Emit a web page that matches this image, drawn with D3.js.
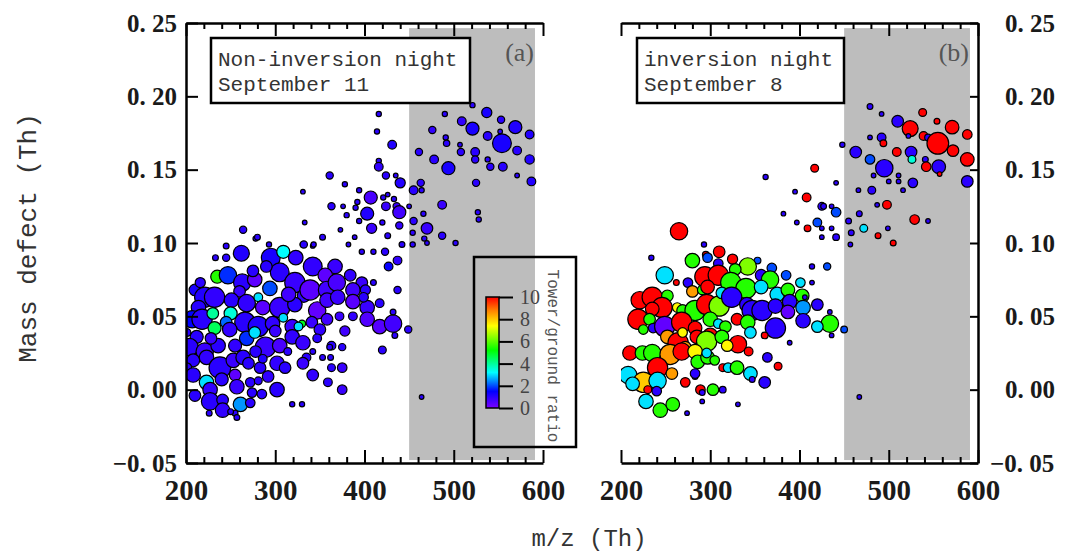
<!DOCTYPE html>
<html>
<head>
<meta charset="utf-8">
<script src="https://cdn.jsdelivr.net/npm/d3@7"></script>
<style>
body { margin: 0; background: #fff; }
</style>
</head>
<body>
<script>
// each point: [m/z, mass defect, size, tower/ground ratio]
var pointsA = [
  [489,0.204,1.8,1],[521,0.194,1.8,1],[537,0.189,3.5,1.2],[416,0.188,1.8,1],[490,0.188,1.8,1],[509,0.183,3,0.9],
  [553,0.184,2.5,1],[569,0.179,4.5,1.1],[521,0.178,4.5,1.2],[414,0.176,1.8,1],[476,0.177,2.5,0.9],[552,0.176,1.6,1],
  [538,0.173,3,1],[585,0.174,3,1.1],[491,0.172,1.8,1],[554,0.168,6.5,1.2],[431,0.167,3,1.1],[492,0.168,2.2,1],
  [507,0.167,1.6,1],[524,0.162,3,1],[508,0.162,2.5,1],[571,0.163,3,1],[585,0.157,3.2,1.1],[461,0.162,2.5,1],
  [524,0.157,2.5,1],[538,0.157,1.8,1],[478,0.157,3,1],[494,0.151,4.5,1.2],[416,0.156,1.8,1],[416,0.152,3,0.9],
  [541,0.152,2.5,1],[555,0.152,3,1],[571,0.146,1.6,1],[587,0.142,3,1.1],[361,0.146,2.5,1],[424,0.146,2.5,1],
  [435,0.146,1.6,1],[440,0.141,3.5,1.1],[378,0.140,1.8,1],[463,0.141,2.5,1],[464,0.136,1.8,1],[525,0.141,2.5,1],
  [331,0.135,1.6,1],[394,0.136,1.8,1],[455,0.136,3,1],[407,0.131,4.5,0.6],[426,0.133,1.6,1],[421,0.131,1.8,1],
  [433,0.130,1.8,1],[392,0.128,1.8,1],[363,0.125,2.5,1],[376,0.125,1.6,1],[390,0.124,1.8,1],[424,0.125,3,0.8],
  [436,0.125,2.5,0.8],[450,0.125,1.6,1],[487,0.126,3,0.8],[403,0.120,4.5,1.1],[439,0.121,4.5,0.7],[380,0.119,1.8,1],
  [466,0.120,1.8,1],[527,0.121,1.8,1],[528,0.116,1.8,1],[333,0.114,1.6,1],[394,0.115,1.8,1],[408,0.110,3.5,0.8],
  [420,0.114,1.8,1],[439,0.112,2.5,0.9],[455,0.115,2.5,1],[470,0.110,4,0.8],[454,0.107,1.8,1],[373,0.109,1.6,1],
  [426,0.105,2,1],[353,0.104,2,1],[389,0.104,1.6,1],[487,0.105,2.5,1],[467,0.103,1.8,1],[502,0.100,1.8,1],
  [331,0.099,2,1],[342,0.098,1.6,1],[382,0.099,1.6,1],[442,0.099,2,1],[454,0.099,1.8,1],[470,0.100,1.6,1],
  [464,-0.005,1.6,1],
  [278,0.103,1.8,1],[264,0.109,2.5,1],[233,0.090,2,1],[245,0.098,2,1],[293,0.099,1.8,1],[280,0.104,2,1],
  [332,0.099,2.5,1],[343,0.099,1.8,1],[397,0.094,1.8,1],[410,0.094,1.8,1],[423,0.094,2.5,1],[437,0.088,3,0.9],
  [427,0.084,3,1.4],[245,0.090,2.5,1],
  [262,0.093,5.5,1.1],[295,0.090,6.5,1.2],[309,0.094,4.5,3.2],[323,0.090,5,0.9],
  [342,0.084,6.5,0.9],[367,0.084,5,0.8],[356,0.078,5,0.35],[384,0.078,4,0.9],[397,0.073,4,0.8],[410,0.073,2,1],
  [235,0.077,4.5,5.5],[247,0.078,6,1.8],[263,0.073,6,1],[277,0.075,5,0.35],[305,0.080,6.5,1],[322,0.073,7,0.8],
  [275,0.081,4,1],[290,0.084,4,1],[260,0.067,4,0.8],[210,0.068,4,1.2],[332,0.064,4.5,0.9],[216,0.073,3.5,1],
  [339,0.068,7,0.4],[358,0.068,6,0.7],[369,0.073,6,0.6],[387,0.068,5,0.7],[401,0.068,3.5,1],[294,0.069,5,2],
  [437,0.068,2.5,1],[221,0.063,7,1.1],[232,0.063,7,0.9],[251,0.061,5,1],[268,0.059,6,0.9],[281,0.063,3,3],
  [286,0.056,5,0.4],[305,0.056,7,0.8],[322,0.058,5,1],[347,0.054,6,0.3],[358,0.061,5,0.7],[370,0.063,5,0.8],
  [387,0.060,5,0.4],[403,0.056,5,0.8],[417,0.059,3,1],[399,0.063,3.3,1],[315,0.065,5,0.7],[214,0.056,5,1],
  [207,0.048,6,1.5],[218,0.048,7,1],[230,0.052,4,4],[232,0.042,4.5,4.5],[250,0.052,4.5,3.5],[266,0.046,7,1],
  [281,0.043,7,1.1],[297,0.045,5,0.9],[309,0.049,3,3],[319,0.043,5,0.8],[330,0.045,2.5,5],[326,0.043,3,3],
  [341,0.046,4,0.8],[358,0.048,4,0.7],[372,0.050,3,0.8],[387,0.050,3,0.9],[403,0.048,5,0.5],[417,0.043,5,0.45],
  [432,0.045,6,0.7],[449,0.041,2.5,1],[432,0.053,2,1],[434,0.037,2,1],[245,0.046,4,2.2],[300,0.040,4,0.8],
  [350,0.041,4,0.9],[378,0.040,3.5,0.7],[212,0.036,4.5,1],
  [201,0.039,2.7,1],[204,0.029,6,1],[221,0.026,6,0.8],[236,0.030,5,1],[249,0.041,5,0.9],[268,0.035,5,1.8],
  [277,0.039,4,3],[289,0.029,7,0.8],[305,0.030,5,0.6],[319,0.036,5,0.9],[331,0.032,5,0.8],[347,0.035,3,1],
  [363,0.030,3,1],[375,0.029,2.5,1],[361,0.029,2,1],[342,0.026,2,1],[353,0.022,2,1],[362,0.022,2,1],
  [314,0.026,2.7,1],[420,0.027,2.7,1],[228,0.035,4,0.8],[335,0.022,3,1],[255,0.030,4.5,0.9],[278,0.026,4,1],
  [363,0.015,2.7,1],[375,0.015,3.3,0.8],[208,0.020,4.5,1],[223,0.022,5,0.9],[238,0.015,7.5,1],[253,0.020,5,0.8],
  [264,0.022,5,1],[255,0.010,4,0.35],[270,0.018,4,1],[283,0.015,4,1],[286,0.021,3,1.1],[302,0.018,5,0.9],
  [311,0.015,4,1],[331,0.018,4,0.8],[342,0.010,4,0.9],[359,0.005,3,1],[375,0.000,3.3,0.8],[201,0.015,3.3,1],
  [208,0.010,5,1],[223,0.005,5,3],[227,0.000,5,0.9],[240,0.007,4.5,1],[257,0.002,5,0.8],[272,0.005,3.3,1],
  [281,0.006,2.7,1],[292,0.009,4,0.9],[302,0.000,5,1],[274,-0.002,3.3,1],[285,-0.003,3.3,1],[210,-0.004,4,1],
  [227,-0.008,6,1],[241,-0.007,4,1],[261,-0.010,5,2.5],[272,-0.009,3.3,1],[241,-0.014,5,0.9],[226,-0.016,2,1],
  [319,-0.010,1.8,1],[330,-0.010,1.8,1],[255,-0.016,2,1],[257,-0.019,2,1],[250,-0.015,2,1]
];

var pointsB = [
  [265,0.108,6,10],[293,0.099,1.8,1],[310,0.094,4,10],[295,0.092,2.3,10],[280,0.088,5,5.5],[234,0.090,1.8,1],
  [325,0.089,3.5,10],[297,0.090,3.3,2],[309,0.086,3.3,1],[353,0.088,2.3,2],[342,0.084,6,6.3],[328,0.082,4,5.5],
  [249,0.078,6,3],[262,0.073,2,10],[294,0.077,7,10],[309,0.078,7,10],[323,0.073,7,5.5],[340,0.069,7,5.5],
  [357,0.078,4,1],[369,0.083,3.3,2],[367,0.075,6,5.5],[385,0.078,3.3,2],[401,0.073,3.3,3],[414,0.073,1.6,1],
  [275,0.073,3.3,1],[280,0.067,4,8.5],[291,0.068,3.3,5.5],[297,0.070,4.7,10],[357,0.070,4.7,3],[375,0.065,5,3],
  [387,0.068,4.7,5.5],[403,0.064,4.7,5.5],[389,0.060,5,1],[406,0.063,1.6,1],[221,0.061,6,10],[235,0.063,7,10],
  [252,0.064,4,5.5],[246,0.056,7,10],[235,0.055,4.7,10],[263,0.056,3.3,7.5],[269,0.054,4,5.5],[283,0.054,7,5.5],
  [296,0.058,7,10],[310,0.057,7,6.3],[313,0.066,4,3],[324,0.063,7,1],[341,0.058,5,1],[347,0.054,7,1],
  [358,0.054,7,1],[373,0.057,5,1],[387,0.053,4.7,0.3],[404,0.056,5,2.5],[404,0.047,5,1],[420,0.058,4,1],
  [434,0.053,1.6,1],[434,0.045,6,5.5],[420,0.043,4,3],[450,0.041,2.3,2],[436,0.037,1.6,1],[219,0.048,7,10],
  [232,0.048,4,5.5],[225,0.041,3.3,5.5],[236,0.042,3.3,1],[249,0.043,7,0.3],[268,0.046,7,10],[283,0.042,4.7,10],
  [300,0.048,5,5.5],[309,0.045,3.3,3],[317,0.043,4,5.5],[330,0.048,4,10],[342,0.046,5,5.5],[373,0.042,7,1],
  [345,0.039,4,3],[252,0.036,4.7,8.5],[264,0.032,7,10],[272,0.029,4,8.5],[285,0.036,4.7,10],[269,0.039,3.3,7.5],
  [300,0.037,5,10],[296,0.033,7,6.3],[313,0.036,4.7,5.5],[331,0.031,6,10],[319,0.030,4,7.5],[343,0.026,3,10],
  [361,0.037,2.3,10],[389,0.032,1.6,1],[210,0.025,5,10],[224,0.025,5,5.5],[235,0.025,6,5.5],[255,0.024,7,8.5],
  [268,0.026,6,10],[283,0.026,5,7.5],[286,0.019,4.7,5.5],[297,0.022,4.7,5.5],[305,0.020,3.3,5.5],[296,0.025,3.3,3],
  [314,0.015,2.7,10],[320,0.015,3.3,3],[330,0.015,4.7,5.5],[345,0.011,4.7,3],[364,0.022,3.3,1],[376,0.016,2.7,10],
  [241,0.015,7,10],[257,0.011,4,8.5],[208,0.010,6,3],[225,0.005,7,8],[241,0.006,6,3],[213,0.004,4.7,3],
  [230,0.000,2.7,10],[240,-0.001,3.3,1],[272,0.005,3.3,10],[283,0.009,2,1],[289,0.000,3.3,10],[291,-0.002,2,1],
  [303,0.000,4,5.5],[314,0.000,2.3,1],[361,0.005,4,1],[228,-0.008,5,3],[244,-0.014,5,5.5],[258,-0.010,4.7,5.5],
  [274,-0.016,1.6,1],[291,-0.008,1.6,1],[331,-0.010,1.6,1],[347,0.007,2,1],[283,0.011,3.3,1],[467,-0.005,1.6,1],
  [479,0.193,2,1],[492,0.188,1.6,1],[538,0.189,2.7,10],[554,0.183,2,10],[510,0.183,4,1],[524,0.178,5.5,10],
  [571,0.179,4.7,10],[588,0.174,3.3,10],[479,0.172,1.6,1],[492,0.172,3,1],[539,0.173,3,10],[544,0.172,2.3,1],
  [522,0.173,1.6,1],[555,0.168,7.5,10],[494,0.168,2.3,10],[448,0.167,1.8,1],[463,0.162,4,1],[509,0.162,3,10],
  [525,0.162,4,1],[572,0.163,4,10],[588,0.157,4.7,10],[479,0.157,3.3,2],[526,0.157,2.7,3.5],[541,0.157,2,1],
  [542,0.152,3.3,10],[495,0.151,6,1],[556,0.152,4.7,1],[557,0.147,1.6,10],[417,0.151,2.7,10],[588,0.142,4,1],
  [527,0.141,3.3,1],[483,0.146,1.6,1],[500,0.142,1.6,1],[511,0.146,1.6,1],[511,0.142,1.6,1],[516,0.136,1.6,1],
  [466,0.136,1.6,1],[481,0.136,2.7,1],[441,0.141,1.6,1],[362,0.145,1.8,1],[395,0.135,1.6,1],[408,0.131,3,10],
  [425,0.125,2.7,1],[427,0.125,2,1],[436,0.125,1.6,1],[441,0.121,3.3,2],[498,0.126,3,10],[487,0.126,1.6,1],
  [382,0.120,1.6,1],[397,0.114,1.6,1],[420,0.114,3,2],[409,0.110,2.3,10],[425,0.110,1.6,1],[436,0.110,1.6,1],
  [425,0.104,1.6,1],[441,0.104,2.3,1],[455,0.115,2,1],[467,0.120,2,1],[472,0.110,2.7,3],[458,0.107,2,1],
  [457,0.099,1.6,1],[488,0.105,2,10],[499,0.110,1.6,1],[505,0.100,2,10],[529,0.116,3.3,10],[544,0.115,1.6,1],
  [431,0.084,2.5,2],[414,0.084,1.8,1]
];

var xTicks = [200, 300, 400, 500, 600];
var xMinor = d3.range(200, 601, 20).filter(function(d) { return d % 100 != 0; });
var yTicks = [-0.05, 0, 0.05, 0.10, 0.15, 0.20, 0.25];
var shadeRange = [450, 591];
var ratioTicks = [0, 2, 4, 6, 8, 10];
var ratioStops = [0, 1.5, 3.2, 5.2, 7.4, 8.8, 10];
var ratioColors = ["#7a00ff", "#0000ff", "#00ffff", "#00ff00", "#ffff00", "#ff8000", "#ff0000"];
var boxLines = [["Non-inversion night", "September 11"], ["inversion night", "September 8"]];
var panelTags = ["(a)", "(b)"];

var width = 1071, height = 556;
var top_ = 23, bottom_ = 463, panelW = 357;
var panelX = [186, 621];

var svg = d3.select("body").append("svg").attr("width", width).attr("height", height);

var y = d3.scaleLinear().domain([-0.05, 0.25]).range([bottom_, top_]);
var color = d3.scaleLinear().domain(ratioStops).range(ratioColors).clamp(true);
var size = d3.scaleLinear().domain([0, 10]).range([0, 14.5]);

var fmtY = function(d) {
  return (d < 0 ? "\u2212" : "") + d3.format(".2f")(Math.abs(d)).replace(".", ". ");
};

function styleAxis(g, fs) {
  g.attr("font-family", "'Liberation Serif', serif").attr("font-size", fs).attr("font-weight", "bold");
  g.selectAll("text").attr("fill", "#1a1a1a");
  g.selectAll(".tick line").attr("stroke", "#000").attr("stroke-width", 2);
  g.select(".domain").attr("stroke", "#000").attr("stroke-width", 2.5);
}

[pointsA, pointsB].forEach(function(points, i) {
  var x = d3.scaleLinear().domain([200, 600]).range([panelX[i], panelX[i] + panelW]);
  var g = svg.append("g");

  g.append("clipPath").attr("id", "clip" + i)
    .append("rect")
    .attr("x", panelX[i]).attr("y", top_)
    .attr("width", panelW).attr("height", bottom_ - top_);

  // shaded m/z band
  g.append("rect")
    .attr("x", x(shadeRange[0]))
    .attr("y", y(0.2465))
    .attr("width", x(shadeRange[1]) - x(shadeRange[0]))
    .attr("height", y(-0.048) - y(0.2465))
    .attr("fill", "#bdbdbd");

  g.append("g").attr("clip-path", "url(#clip" + i + ")")
    .selectAll("circle")
    .data(points)
    .enter().append("circle")
    .attr("cx", function(d) { return x(d[0]); })
    .attr("cy", function(d) { return y(d[1]); })
    .attr("r", function(d) { return size(d[2]); })
    .attr("fill", function(d) { return color(d[3]); })
    .attr("stroke", "#000")
    .attr("stroke-width", 1.2);

  // bottom axis
  var bx = g.append("g").attr("transform", "translate(0," + bottom_ + ")")
    .call(d3.axisBottom(x).tickValues(xTicks).tickSizeInner(-13).tickSizeOuter(0).tickPadding(16));
  styleAxis(bx, 29);
  var bm = g.append("g").attr("transform", "translate(0," + bottom_ + ")")
    .call(d3.axisBottom(x).tickValues(xMinor).tickSize(-6).tickFormat(""));
  styleAxis(bm, 10);
  bm.select(".domain").remove();

  // top axis
  var tx = g.append("g").attr("transform", "translate(0," + top_ + ")")
    .call(d3.axisTop(x).tickValues(xTicks).tickSizeInner(-13).tickSizeOuter(0).tickFormat(""));
  styleAxis(tx, 10);
  var tm = g.append("g").attr("transform", "translate(0," + top_ + ")")
    .call(d3.axisTop(x).tickValues(xMinor).tickSize(-6).tickFormat(""));
  styleAxis(tm, 10);
  tm.select(".domain").remove();

  // mass defect axis: left side on (a), right side on (b)
  if (i == 0) {
    var ly = g.append("g").attr("transform", "translate(" + panelX[i] + ",0)")
      .call(d3.axisLeft(y).tickValues(yTicks).tickSizeInner(-12).tickSizeOuter(0).tickPadding(9).tickFormat(fmtY));
    styleAxis(ly, 25);
  } else {
    var ry = g.append("g").attr("transform", "translate(" + (panelX[i] + panelW) + ",0)")
      .call(d3.axisRight(y).tickValues(yTicks).tickSizeInner(-8).tickSizeOuter(0).tickPadding(27).tickFormat(fmtY));
    styleAxis(ry, 25);
    ry.selectAll(".tick text").attr("dx", function(d) { return d < 0 ? -15 : 0; });
  }

  // label box
  var bxX = i == 0 ? 211 : 637, bxW = i == 0 ? 259 : 207;
  g.append("rect")
    .attr("x", bxX).attr("y", 38).attr("width", bxW).attr("height", 65)
    .attr("fill", "#fff").attr("stroke", "#000").attr("stroke-width", 2.5);
  g.selectAll(".boxline")
    .data(boxLines[i])
    .enter().append("text")
    .attr("x", bxX + 7)
    .attr("y", function(d, j) { return 66 + j * 25; })
    .attr("font-family", "'Liberation Mono', monospace")
    .attr("font-size", 21)
    .attr("fill", "#333")
    .text(function(d) { return d; });

  g.append("text")
    .attr("x", panelX[i] + panelW - 9)
    .attr("y", 61)
    .attr("text-anchor", "end")
    .attr("font-family", "'Liberation Serif', serif")
    .attr("font-size", 26)
    .attr("fill", "#555")
    .text(panelTags[i]);
});

// colour bar legend
var cb = svg.append("g");
cb.append("rect")
  .attr("x", 474).attr("y", 257).attr("width", 102).attr("height", 190)
  .attr("fill", "none").attr("stroke", "#000").attr("stroke-width", 2.5);

var grad = svg.append("defs").append("linearGradient")
  .attr("id", "ratioGrad").attr("x1", 0).attr("y1", 1).attr("x2", 0).attr("y2", 0);
grad.selectAll("stop")
  .data(ratioStops)
  .enter().append("stop")
  .attr("offset", function(d) { return d / 10; })
  .attr("stop-color", function(d, k) { return ratioColors[k]; });

var yc = d3.scaleLinear().domain([0, 10]).range([408, 297]);
cb.append("rect")
  .attr("x", 486).attr("y", yc(10)).attr("width", 13).attr("height", yc(0) - yc(10))
  .attr("fill", "url(#ratioGrad)").attr("stroke", "#000").attr("stroke-width", 1.5);
var ca = cb.append("g").attr("transform", "translate(499,0)")
  .call(d3.axisRight(yc).tickValues(ratioTicks).tickSize(14).tickPadding(7));
ca.attr("font-family", "'Liberation Serif', serif").attr("font-size", 20);
ca.select(".domain").remove();
ca.selectAll(".tick line").attr("stroke", "#000").attr("stroke-width", 2);
ca.selectAll("text").attr("fill", "#444");

cb.append("text")
  .attr("transform", "translate(552,356) rotate(90)")
  .attr("text-anchor", "middle")
  .attr("dominant-baseline", "middle")
  .attr("font-family", "'Liberation Mono', monospace")
  .attr("font-size", 16)
  .attr("fill", "#555")
  .text("Tower/ground ratio");

// axis titles
svg.append("text")
  .attr("transform", "translate(36,238) rotate(-90)")
  .attr("text-anchor", "middle")
  .attr("font-family", "'Liberation Mono', monospace")
  .attr("font-size", 26)
  .attr("fill", "#333")
  .text("Mass defect (Th)");

svg.append("text")
  .attr("x", 589).attr("y", 546)
  .attr("text-anchor", "middle")
  .attr("font-family", "'Liberation Mono', monospace")
  .attr("font-size", 24)
  .attr("fill", "#333")
  .text("m/z (Th)");
</script>
</body>
</html>
